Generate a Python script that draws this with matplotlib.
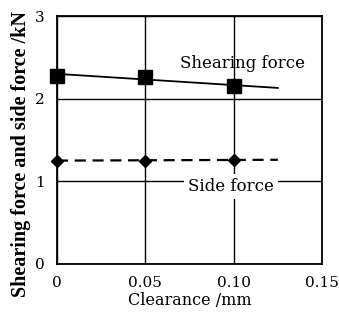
import numpy as np
import matplotlib.pyplot as plt

plt.rcParams['font.family'] = 'DejaVu Serif'

# Data
clearance = [0.0, 0.05, 0.10]
shearing = [2.28, 2.26, 2.15]
side = [1.25, 1.25, 1.26]
# fitted trend lines (end points)
fit_x = [0.0, 0.125]
shear_fit = [2.30, 2.13]
side_fit = [1.25, 1.26]

xticks = [0, 0.05, 0.10, 0.15]
xticklabels = ['0', '0.05', '0.10', '0.15']
yticks = [0, 1, 2, 3]


def main():
    fig = plt.figure(figsize=(3.39, 3.21), dpi=100)
    ax = fig.add_axes([0.168, 0.178, 0.782, 0.772])

    ax.set_xlim(0, 0.15)
    ax.set_ylim(0, 3)
    ax.set_xticks(xticks)
    ax.set_xticklabels(xticklabels)
    ax.set_yticks(yticks)
    ax.tick_params(length=0, labelsize=11, pad=9)
    ax.grid(True, color='black', linewidth=1.0)
    ax.set_axisbelow(True)
    for s in ax.spines.values():
        s.set_linewidth(1.3)

    ax.plot(fit_x, shear_fit, color='black', lw=1.3, zorder=3)
    ax.plot(clearance, shearing, 's', color='black', ms=10, zorder=4, clip_on=False)
    ax.plot(fit_x, side_fit, color='black', lw=1.6, ls=(0, (5, 3)), zorder=3)
    ax.plot(clearance, side, 'D', color='black', ms=6, zorder=4, clip_on=False)

    ax.text(0.105, 2.42, 'Shearing force', fontsize=12, ha='center', va='center', zorder=5)
    ax.text(0.0985, 0.94, 'Side force', fontsize=12, ha='center', va='center', zorder=5,
            bbox=dict(facecolor='white', edgecolor='none', pad=3))

    ax.set_xlabel('Clearance /mm', fontsize=11.5, labelpad=1)
    fig.text(0.062, 0.52, 'Shearing force and side force /kN', rotation=90,
             fontsize=14.5, family='Liberation Serif', fontweight='bold',
             ha='center', va='center')

    fig.savefig('out.png', dpi=100)


if __name__ == "__main__":
    main()
